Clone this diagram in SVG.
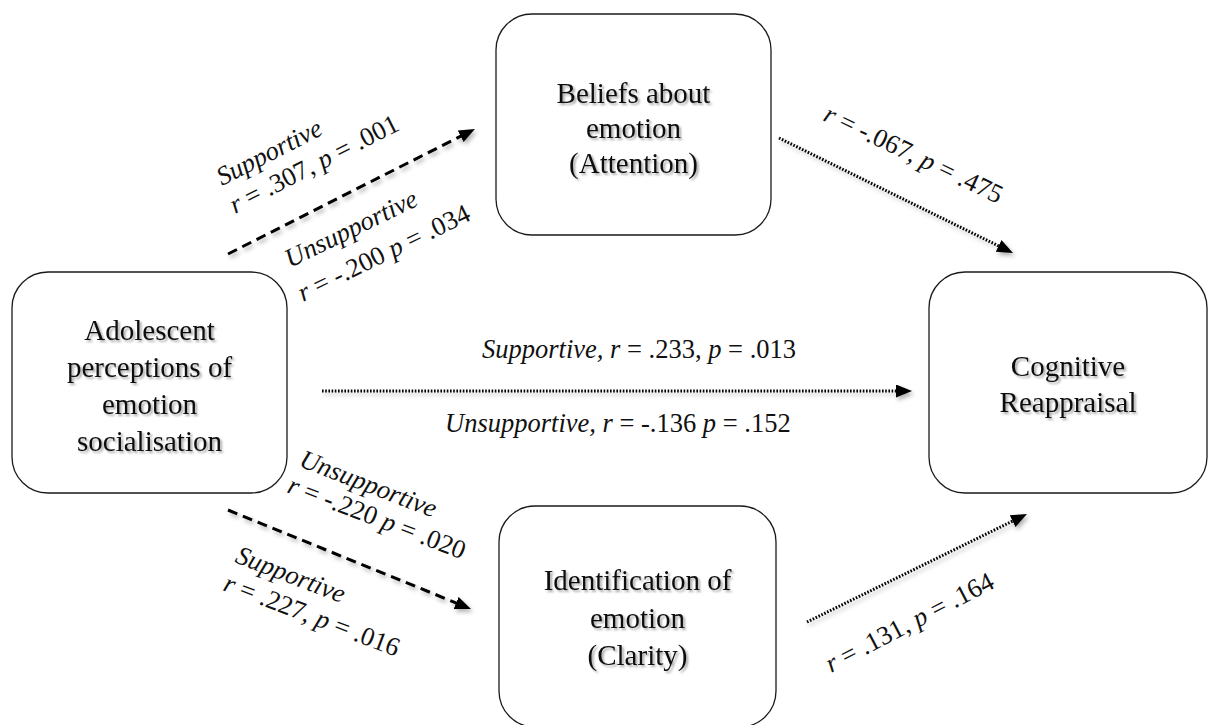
<svg xmlns="http://www.w3.org/2000/svg" width="1213" height="725" viewBox="0 0 1213 725">
<style>
.box{fill:#fff;stroke:#1a1a1a;stroke-width:1.3}
.nt{font-family:"Liberation Serif","Times New Roman",serif;font-size:29px;fill:#111;text-anchor:middle}
.lb{font-family:"Liberation Serif","Times New Roman",serif;font-size:26.5px;fill:#111}
.i{font-style:italic}
.dash{fill:none;stroke:#000;stroke-width:3;stroke-dasharray:10 6}
.dot{fill:none;stroke:#000;stroke-width:3;stroke-dasharray:1.6 1.6}
</style>
<defs>
<filter id="ts" x="-10%" y="-30%" width="130%" height="170%">
<feDropShadow dx="2" dy="2" stdDeviation="1.3" flood-color="#000" flood-opacity="0.35"/>
</filter>
<filter id="as" x="-10%" y="-30%" width="130%" height="200%">
<feDropShadow dx="2" dy="3" stdDeviation="2" flood-color="#000" flood-opacity="0.3"/>
</filter>
<marker id="ah" markerUnits="userSpaceOnUse" markerWidth="18" markerHeight="14" refX="6" refY="6.5" orient="auto" viewBox="0 0 18 14">
<path d="M0,0 L16,6.5 L0,13 Z" fill="#000"/>
</marker>
</defs>

<g id="node-beliefs">
<rect class="box" x="496" y="14" width="275" height="221" rx="36"/>
<g filter="url(#ts)">
<text class="nt" x="633.5" y="103">Beliefs about</text>
<text class="nt" x="633.5" y="138">emotion</text>
<text class="nt" x="633.5" y="173">(Attention)</text>
</g>
</g>

<g id="node-adolescent">
<rect class="box" x="12" y="272" width="275" height="221" rx="36"/>
<g filter="url(#ts)">
<text class="nt" x="149.5" y="340">Adolescent</text>
<text class="nt" x="149.5" y="377">perceptions of</text>
<text class="nt" x="149.5" y="414">emotion</text>
<text class="nt" x="149.5" y="451">socialisation</text>
</g>
</g>

<g id="node-cognitive">
<rect class="box" x="929" y="272" width="278" height="221" rx="36"/>
<g filter="url(#ts)">
<text class="nt" x="1068" y="376">Cognitive</text>
<text class="nt" x="1068" y="412">Reappraisal</text>
</g>
</g>

<g id="node-identification">
<rect class="box" x="499" y="506" width="277" height="221" rx="36"/>
<g filter="url(#ts)">
<text class="nt" x="637.5" y="590">Identification of</text>
<text class="nt" x="637.5" y="628">emotion</text>
<text class="nt" x="637.5" y="665">(Clarity)</text>
</g>
</g>

<g id="connectors" filter="url(#as)">
<line class="dash" x1="228" y1="254" x2="466" y2="133.5" marker-end="url(#ah)"/>
<line class="dash" x1="228" y1="510" x2="461.7" y2="605.2" marker-end="url(#ah)"/>
<line class="dot" x1="779" y1="138" x2="1004" y2="248.6" marker-end="url(#ah)"/>
<line class="dot" x1="807" y1="622" x2="1018" y2="518.4" marker-end="url(#ah)"/>
<line class="dot" x1="322" y1="391" x2="902" y2="391" marker-end="url(#ah)"/>
</g>

<g id="labels">
<text class="lb i" transform="translate(222,186) rotate(-27)">Supportive</text>
<text class="lb" transform="translate(235,214) rotate(-27)"><tspan class="i">r</tspan> = .307, <tspan class="i">p</tspan> = .001</text>
<text class="lb i" transform="translate(290,268) rotate(-26)">Unsupportive</text>
<text class="lb" transform="translate(303,302) rotate(-26)"><tspan class="i">r</tspan> = -.200 <tspan class="i">p</tspan> = .034</text>
<text class="lb" transform="translate(822,120) rotate(25.5)"><tspan class="i">r</tspan> = -.067, <tspan class="i">p</tspan> = .475</text>
<text class="lb" x="482" y="358"><tspan class="i">Supportive, r</tspan> = .233, <tspan class="i">p</tspan> = .013</text>
<text class="lb" x="445" y="432"><tspan class="i">Unsupportive, r</tspan> = -.136 <tspan class="i">p</tspan> = .152</text>
<text class="lb i" transform="translate(298,466) rotate(21)">Unsupportive</text>
<text class="lb" transform="translate(286,492) rotate(21)"><tspan class="i">r</tspan> = -.220 <tspan class="i">p</tspan> = .020</text>
<text class="lb i" transform="translate(234,562) rotate(21)">Supportive</text>
<text class="lb" transform="translate(222,590) rotate(21)"><tspan class="i">r</tspan> = .227, <tspan class="i">p</tspan> = .016</text>
<text class="lb" transform="translate(831,673) rotate(-27.5)"><tspan class="i">r</tspan> = .131, <tspan class="i">p</tspan> = .164</text>
</g>
</svg>
